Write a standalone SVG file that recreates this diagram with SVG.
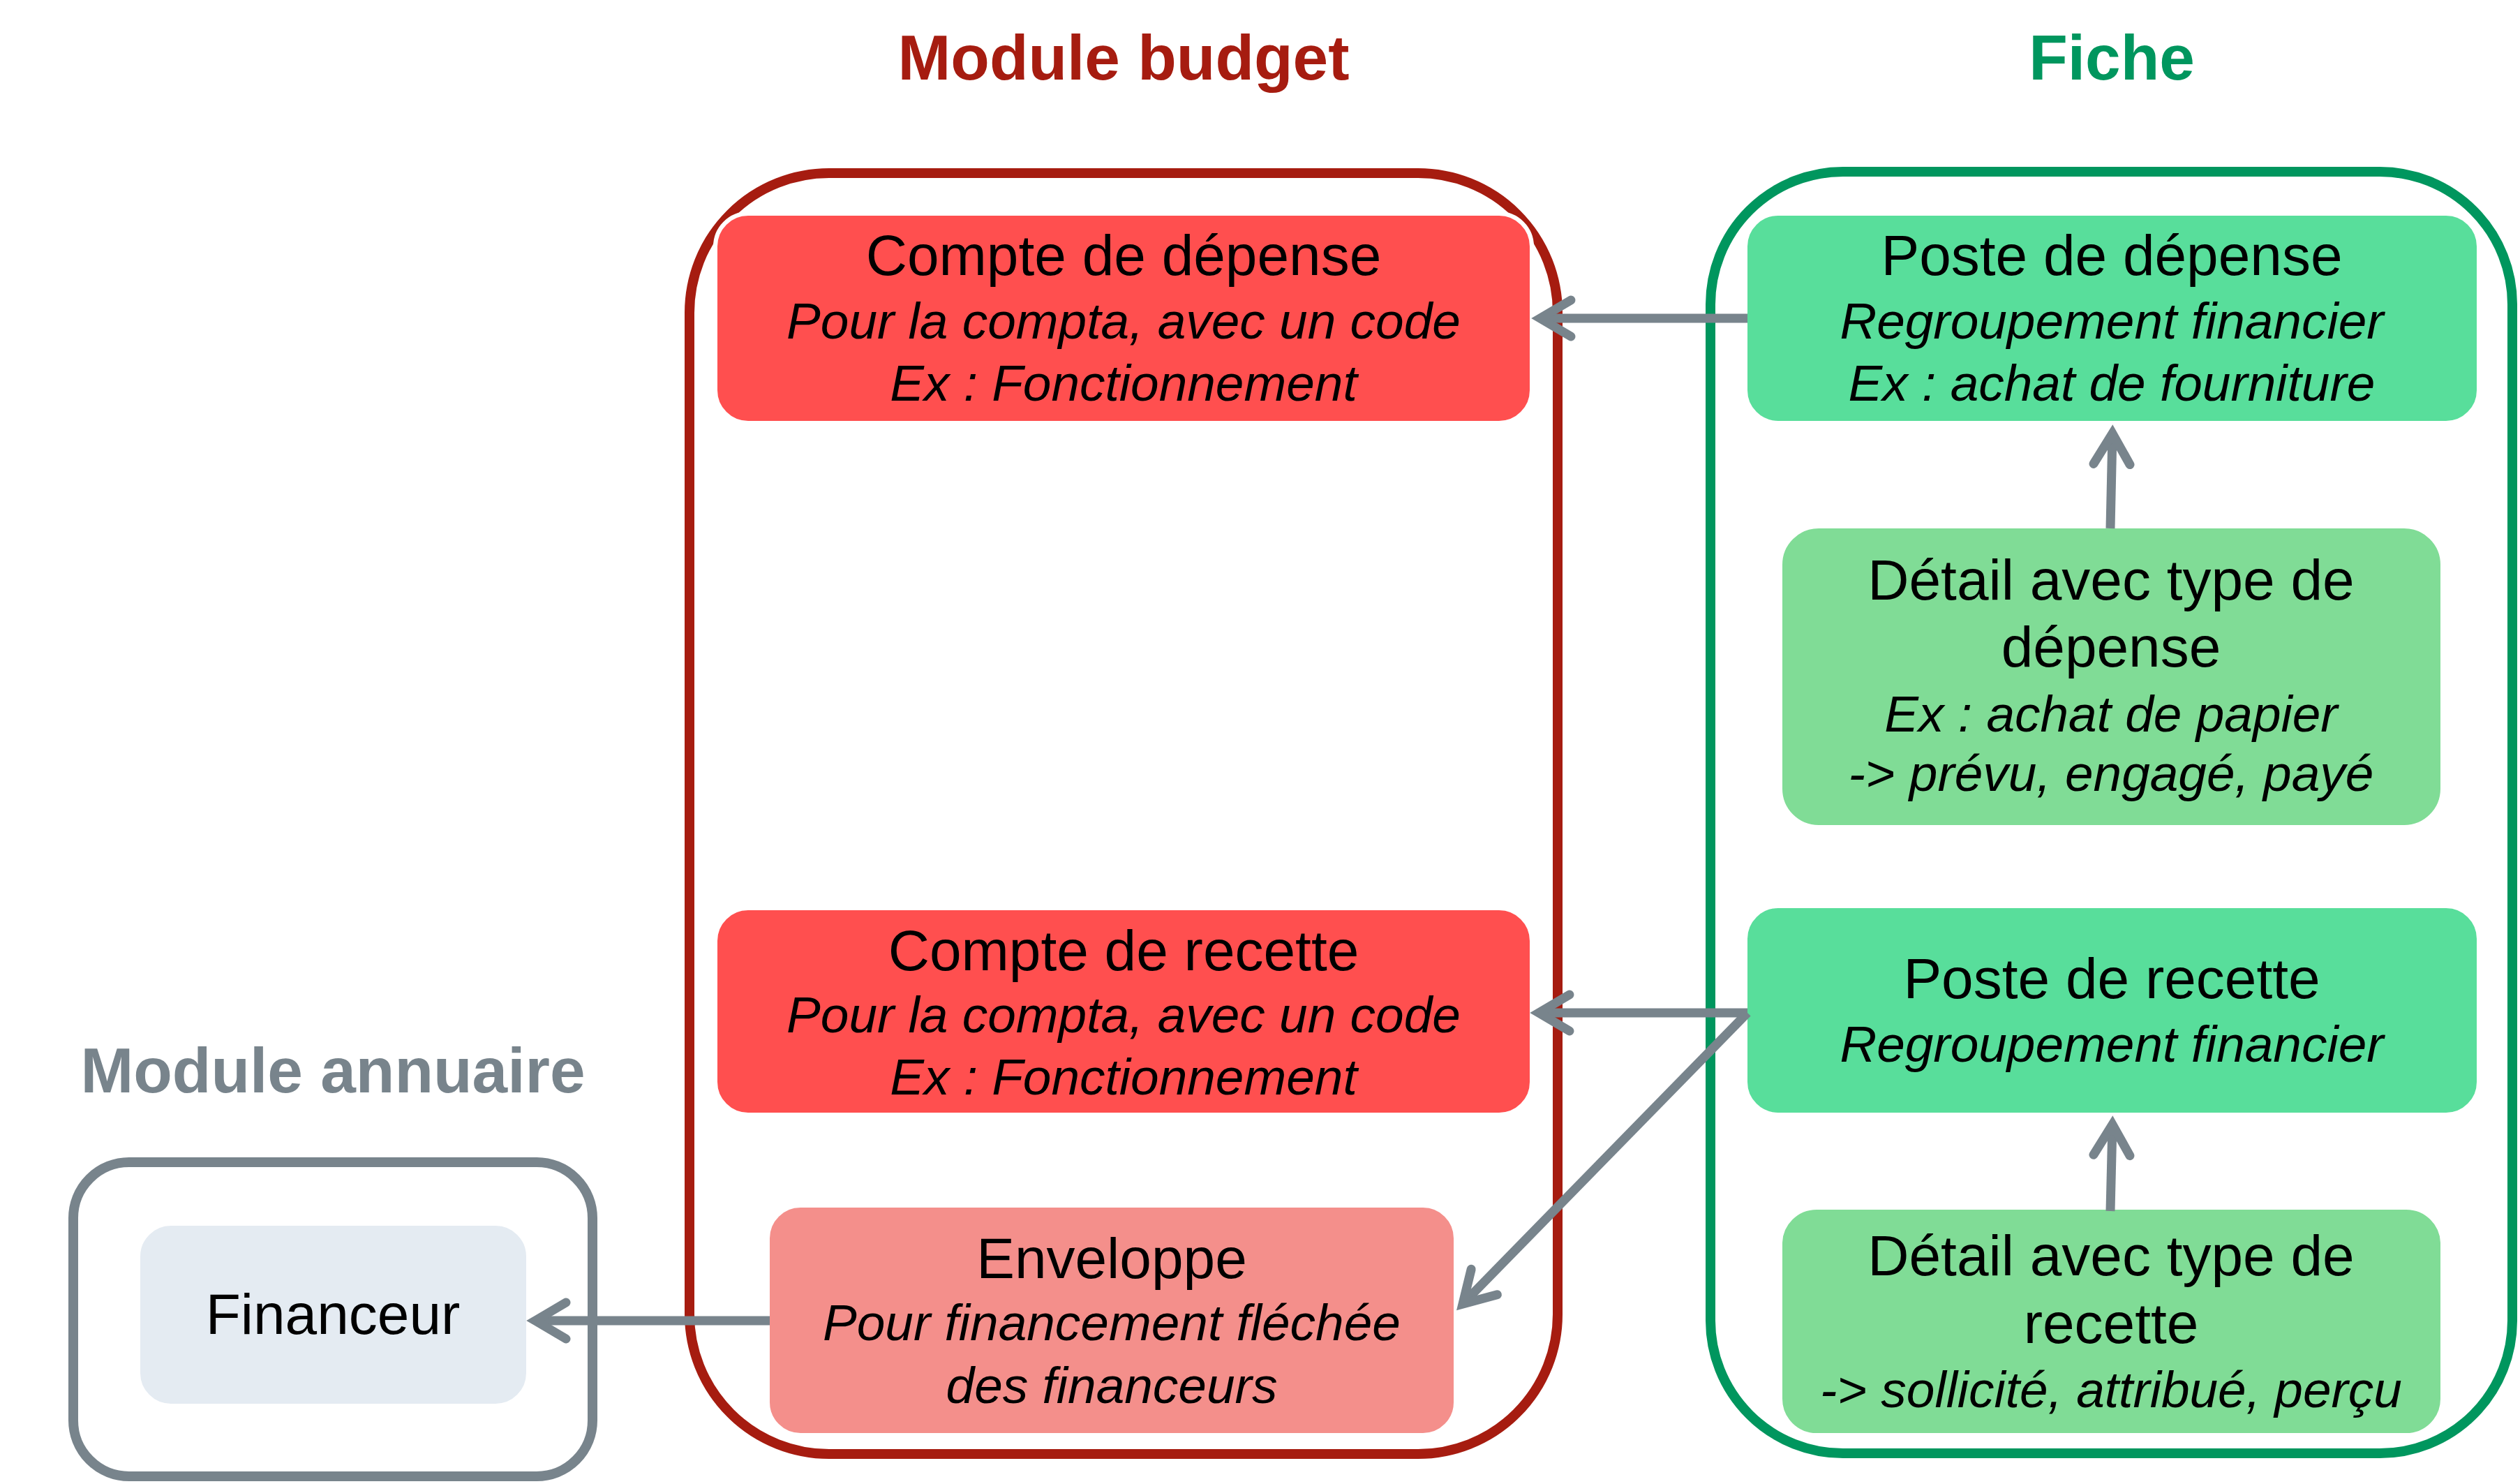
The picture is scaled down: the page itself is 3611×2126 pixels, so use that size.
<svg xmlns="http://www.w3.org/2000/svg" width="3611" height="2126" viewBox="0 0 3611 2126">
<style>
.bg{fill:#ffffff}
.title{font-family:"Liberation Sans",Arial,Helvetica,sans-serif;font-weight:bold;font-size:91px;text-anchor:middle}
.t{font-family:"Liberation Sans",Arial,Helvetica,sans-serif;font-size:82px;text-anchor:middle;fill:#000}
.i{font-family:"Liberation Sans",Arial,Helvetica,sans-serif;font-size:73px;font-style:italic;text-anchor:middle;fill:#000}
.cont{fill:none;stroke-width:14}
.box{stroke:#ffffff;stroke-width:6}
.compte{fill:#FF4F4F}
.env{fill:#F48F8B}
.poste{fill:#58DE9B}
.detail{fill:#80DC96}
.fin{fill:#E4EBF2}
.conn line{stroke:#78848C;stroke-width:13;stroke-linecap:butt;fill:none;marker-end:url(#arr)}
</style>
<defs>
<marker id="arr" markerUnits="userSpaceOnUse" orient="auto" markerWidth="120" markerHeight="120" refX="0" refY="0" overflow="visible">
<path d="M-44,-26 L0,0 L-44,26" fill="none" stroke="#78848C" stroke-width="13" stroke-linecap="round" stroke-linejoin="miter"/>
</marker>
</defs>
<rect class="bg" x="0" y="0" width="3611" height="2126"/>

<g id="module-budget">
<text class="title" x="1610" y="114" fill="#A61C10">Module budget</text>
<rect class="cont" x="988" y="248" width="1244" height="1835" rx="200" ry="200" stroke="#A61C10"/>
</g>
<g id="fiche">
<text class="title" x="3026" y="114" fill="#00965E">Fiche</text>
<rect class="cont" x="2451" y="246" width="1149" height="1836" rx="190" ry="190" stroke="#00965E"/>
</g>
<g id="module-annuaire">
<text class="title" x="477" y="1565" fill="#78848C">Module annuaire</text>
<rect class="cont" x="105" y="1665" width="744" height="450" rx="80" ry="80" stroke="#78848C"/>
</g>

<g id="compte-depense">
<rect class="box compte" x="1025" y="306" width="1170" height="300" rx="47" ry="47"/>
<text class="t" x="1610" y="394">Compte de dépense</text>
<text class="i" x="1610" y="485">Pour la compta, avec un code</text>
<text class="i" x="1610" y="574">Ex : Fonctionnement</text>
</g>
<g id="compte-recette">
<rect class="box compte" x="1025" y="1301" width="1170" height="296" rx="47" ry="47"/>
<text class="t" x="1610" y="1390">Compte de recette</text>
<text class="i" x="1610" y="1479">Pour la compta, avec un code</text>
<text class="i" x="1610" y="1568">Ex : Fonctionnement</text>
</g>
<g id="enveloppe">
<rect class="box env" x="1100" y="1727" width="986" height="329" rx="47" ry="47"/>
<text class="t" x="1593" y="1831">Enveloppe</text>
<text class="i" x="1593" y="1920">Pour financement fléchée</text>
<text class="i" x="1593" y="2010">des financeurs</text>
</g>
<g id="poste-depense">
<rect class="box poste" x="2501" y="306" width="1051" height="300" rx="47" ry="47"/>
<text class="t" x="3026" y="394">Poste de dépense</text>
<text class="i" x="3026" y="485">Regroupement financier</text>
<text class="i" x="3026" y="574">Ex : achat de fourniture</text>
</g>
<g id="detail-depense">
<rect class="box detail" x="2551" y="754" width="949" height="431" rx="55" ry="55"/>
<text class="t" x="3025" y="859">Détail avec type de</text>
<text class="t" x="3025" y="955">dépense</text>
<text class="i" x="3025" y="1048">Ex : achat de papier</text>
<text class="i" x="3025" y="1133">-&gt; prévu, engagé, payé</text>
</g>
<g id="poste-recette">
<rect class="box poste" x="2501" y="1298" width="1051" height="299" rx="47" ry="47"/>
<text class="t" x="3026" y="1430">Poste de recette</text>
<text class="i" x="3026" y="1521">Regroupement financier</text>
</g>
<g id="detail-recette">
<rect class="box detail" x="2551" y="1730" width="949" height="326" rx="52" ry="52"/>
<text class="t" x="3025" y="1827">Détail avec type de</text>
<text class="t" x="3025" y="1924">recette</text>
<text class="i" x="3025" y="2016">-&gt; sollicité, attribué, perçu</text>
</g>
<g id="financeur">
<rect class="box fin" x="198" y="1753" width="559" height="261" rx="47" ry="47"/>
<text class="t" x="477" y="1911">Financeur</text>
</g>

<g id="connectors" class="conn">
<line x1="2504" y1="456" x2="2207" y2="456"/>
<line x1="3024" y1="757" x2="3027" y2="621"/>
<line x1="2504" y1="1451" x2="2205" y2="1451"/>
<line x1="2504" y1="1451" x2="2096" y2="1868"/>
<line x1="3024" y1="1735" x2="3027" y2="1611"/>
<line x1="1103" y1="1892" x2="767" y2="1892"/>
</g>
</svg>
